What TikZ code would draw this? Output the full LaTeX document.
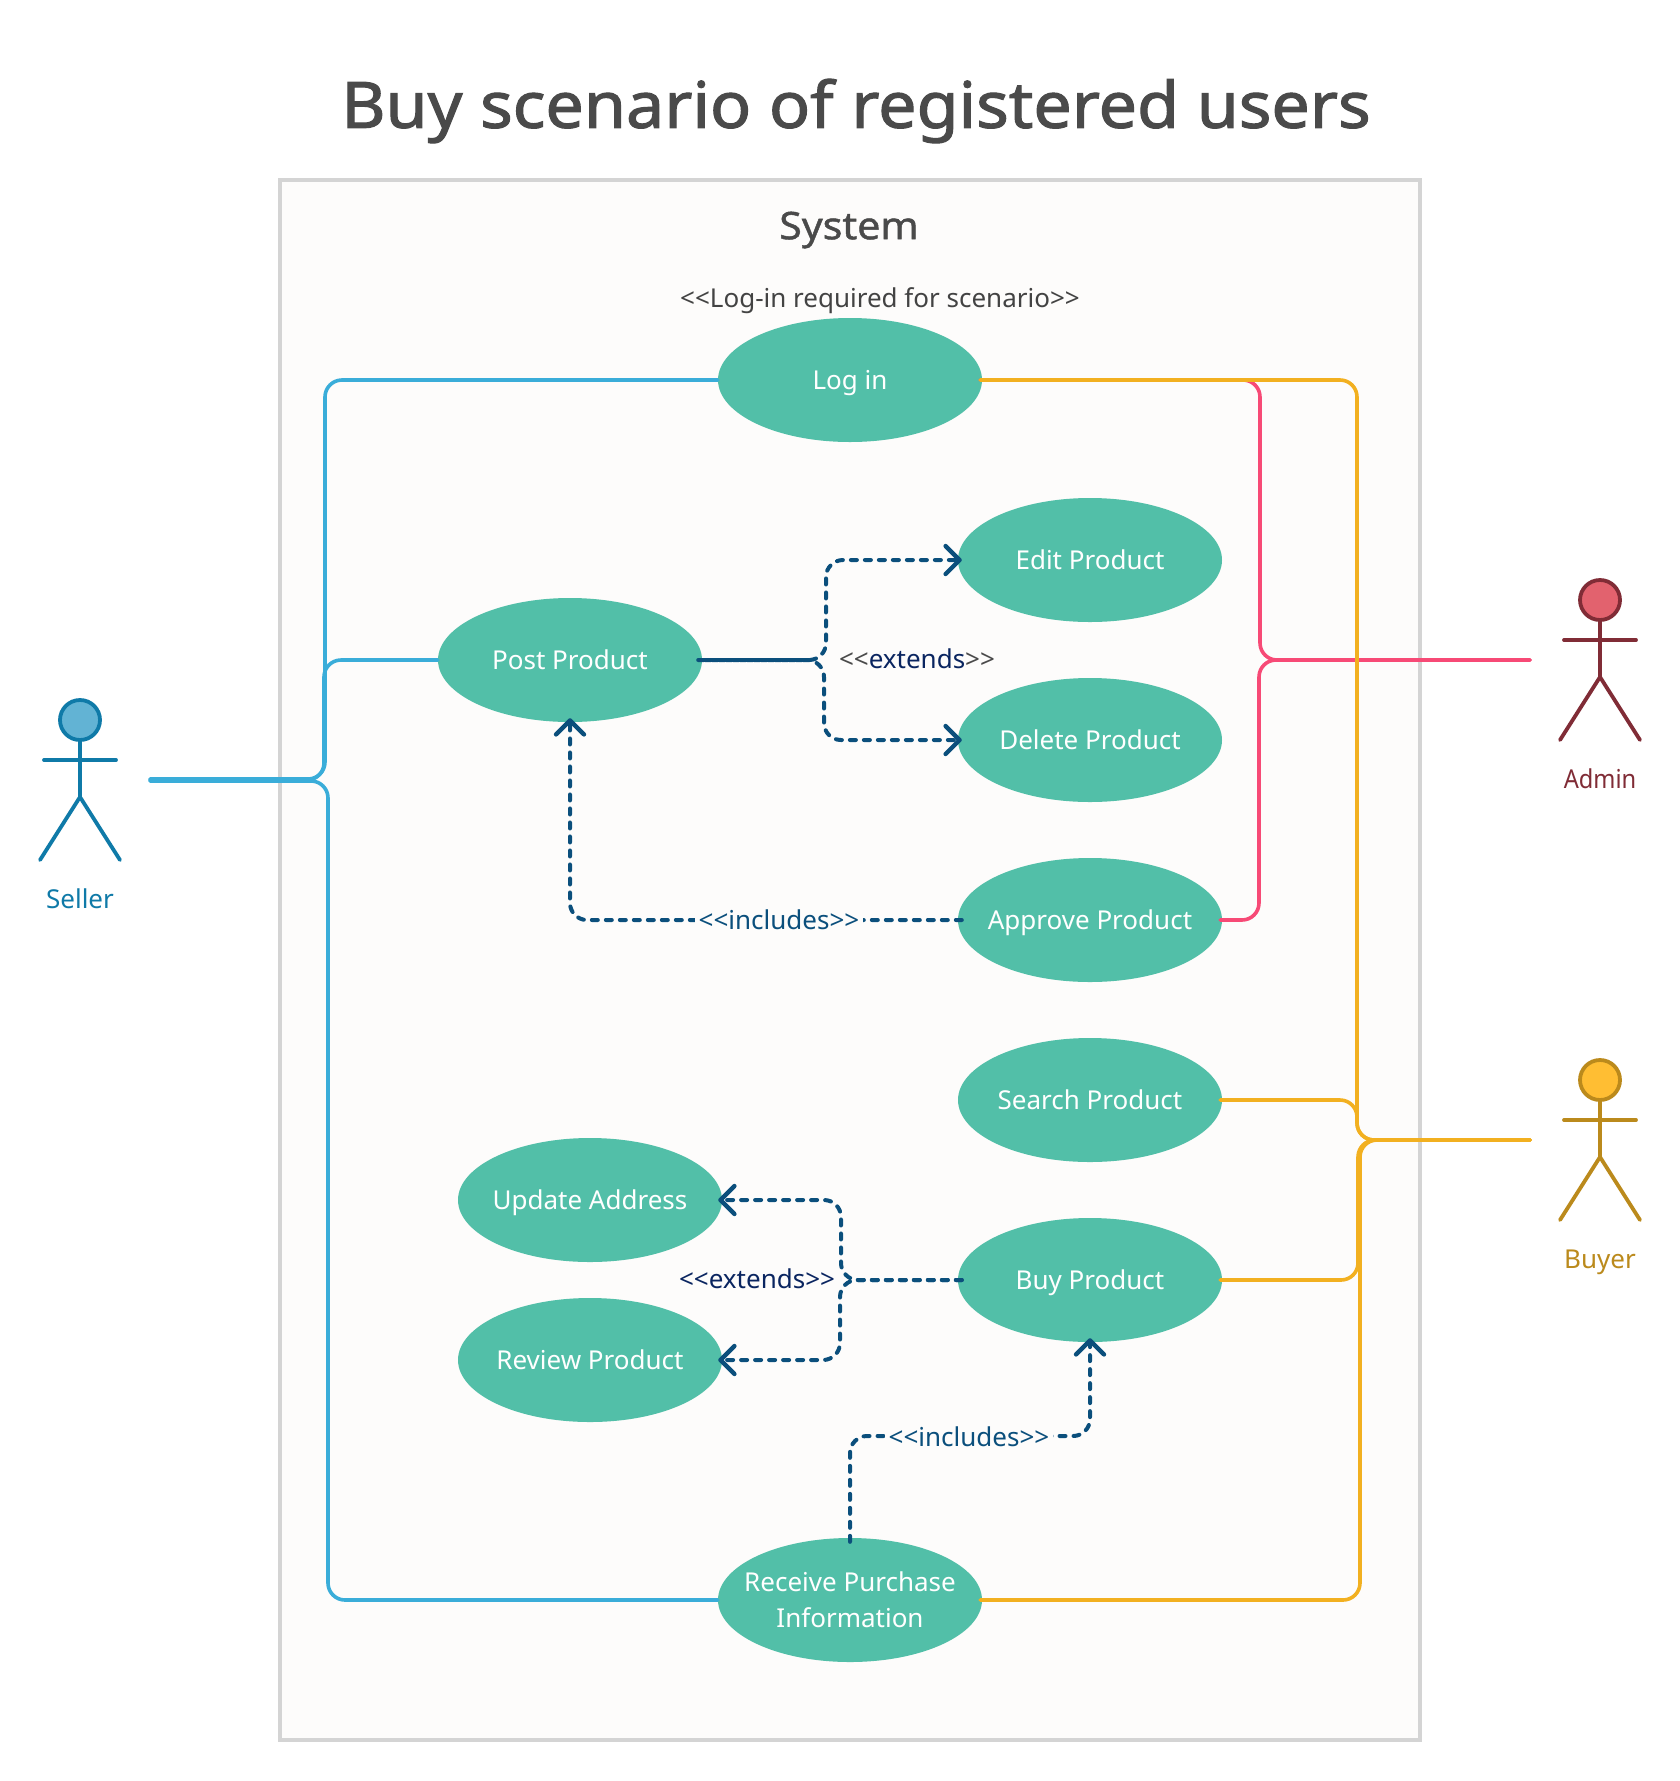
\documentclass[tikz,border=0pt]{standalone}
\usepackage{fontspec}
\setmainfont{Noto Sans}
\newfontfamily\titlefont[FakeBold=1.7,FakeStretch=1.065]{Noto Sans}
\newfontfamily\sysfont[FakeBold=1.2,FakeStretch=1.08]{Noto Sans}
\usetikzlibrary{shapes.geometric,arrows.meta}
\definecolor{teal1}{HTML}{52BFA8}
\definecolor{sysfill}{HTML}{FDFCFB}
\definecolor{sysline}{HTML}{D4D4D4}
\definecolor{bluel}{HTML}{3AADD9}
\definecolor{pinkl}{HTML}{F74A76}
\definecolor{orangel}{HTML}{F2B020}
\definecolor{dashc}{HTML}{0B4F7C}
\definecolor{navy}{HTML}{0A2560}
\definecolor{grayt}{HTML}{4A4A4A}
\definecolor{sellc}{HTML}{0F7AA8}
\definecolor{sellf}{HTML}{62B3D4}
\definecolor{admc}{HTML}{802C36}
\definecolor{admf}{HTML}{E2626E}
\definecolor{buyc}{HTML}{BB8A1C}
\definecolor{buyf}{HTML}{FFBE33}
\tikzset{
 x=1pt,y=-1pt,
 usecase/.style={ellipse,fill=teal1,minimum width=264pt,minimum height=124pt,inner sep=0pt,text=white,font=\fontsize{26}{32}\selectfont},
 assoc/.style={line width=3.6pt,rounded corners=17pt,line cap=round,shorten <=-2pt},
 dep/.style={line width=4pt,color=dashc,rounded corners=17pt,line cap=round,dash pattern=on 6pt off 8pt,shorten <=-4pt},
 openhead/.style={-{Straight Barb[length=14pt,width=28pt,line width=4.4pt,round]},shorten >=-4pt},
 deplabel/.style={fill=sysfill,inner sep=4pt,font=\fontsize{26}{30}\selectfont,text=dashc},
 actorline/.style={line width=3.8pt,line cap=round},
 actorlabel/.style={font=\fontsize{26}{30}\selectfont}
}
\newcommand{\uc}[1]{\makebox[0pt]{\smash{#1}\rule{0pt}{19.5pt}}}
\newcommand{\ucc}[2]{\makebox[0pt]{\raisebox{-2.5pt}[\height][\depth]{\begin{tabular}{@{}c@{}}#1\\#2\end{tabular}}}}
\newcommand{\actorfig}[4]{%
 \draw[actorline,#2] (#3,#4+20) -- (#3,#4+77);
 \draw[actorline,#2] (#3-36,#4+40) -- (#3+36,#4+40);
 \draw[actorline,#2] (#3-40,#4+140) -- (#3,#4+77) -- (#3+40,#4+140);
 \draw[line width=3.8pt,#2,fill=#1] (#3,#4) circle (20pt);
}
\begin{document}
\begin{tikzpicture}
\useasboundingbox (0,0) rectangle (1680,1781);
\fill[white] (0,0) rectangle (1680,1781);
\node[font=\titlefont\fontsize{64}{72}\selectfont,text=grayt] (title) at (856,111) {Buy scenario of registered users};
\draw[line width=4pt,sysline,fill=sysfill] (280,180) rectangle (1420,1740);
\node[font=\sysfont\fontsize{38}{44}\selectfont,text=grayt] (system) at (849,230) {System};
\node[font=\fontsize{26}{30}\selectfont,text=grayt!90!black] (req) at (880,301) {<{}<Log-in required for scenario>{}>};

\node[usecase] (login) at (850,380) {\uc{Log in}};
\node[usecase] (post) at (570,660) {\uc{Post Product}};
\node[usecase] (edit) at (1090,560) {\uc{Edit Product}};
\node[usecase] (delete) at (1090,740) {\uc{Delete Product}};
\node[usecase] (approve) at (1090,920) {\uc{Approve Product}};
\node[usecase] (search) at (1090,1100) {\uc{Search Product}};
\node[usecase] (update) at (590,1200) {\uc{Update Address}};
\node[usecase] (buy) at (1090,1280) {\uc{Buy Product}};
\node[usecase] (review) at (590,1360) {\uc{Review Product}};
\node[usecase,font=\fontsize{26}{36}\selectfont] (receive) at (850,1600) {\ucc{Receive Purchase}{Information}};

\actorfig{sellf}{sellc}{80}{720}
\actorfig{admf}{admc}{1600}{600}
\actorfig{buyf}{buyc}{1600}{1080}
\node[actorlabel,text=sellc] (seller) at (80,899) {Seller};
\node[actorlabel,text=admc] (admin) at (1600,779) {\scalebox{0.91}[1]{Admin}};
\node[actorlabel,text=buyc] (buyer) at (1600,1262) {Buyer};

\coordinate (sa) at (150,779);
\coordinate (sb) at (150,780);
\coordinate (sc) at (150,781);
\coordinate (aa) at (1530,660);
\coordinate (ba) at (1530,1140);

% seller
\draw[assoc,bluel,shorten <=0pt] (sa) -- (325,779) -- (325,380) -- (login.west);
\draw[assoc,bluel,shorten <=0pt] (sb) -- (324,780) -- (324,660) -- (post.west);
\draw[assoc,bluel,shorten <=0pt] (sc) -- (328,781) -- (328,1600) -- (receive.west);
% admin
\draw[assoc,pinkl] (login.east) -- (1260,380) -- (1260,660) -- (aa);
\draw[assoc,pinkl] (approve.east) -- (1259,920) -- (1259,660) -- (aa);
% buyer
\draw[assoc,orangel] (login.east) -- (1357,380) -- (1357,1140) -- (ba);
\draw[assoc,orangel] (search.east) -- (1357,1100) -- (1357,1140) -- (ba);
\draw[assoc,orangel] (buy.east) -- (1358,1280) -- (1358,1140) -- (ba);
\draw[assoc,orangel] (receive.east) -- (1360,1600) -- (1360,1140) -- (ba);

% extends / includes
\draw[dep,openhead] (post.east) -- (826,660) -- (826,560) -- (edit.west);
\draw[dep,openhead,dash phase=7pt] (post.east) -- (824,660) -- (824,740) -- (delete.west);
\draw[dep,openhead] (approve.west) -- (570,920) -- (post.south);
\draw[dep,openhead] (buy.west) -- (841,1280) -- (841,1200) -- (update.east);
\draw[dep,openhead] (buy.west) -- (840,1280) -- (840,1360) -- (review.east);
\draw[dep,openhead] (receive.north) -- (850,1436) -- (1090,1436) -- (buy.south);

\node[deplabel] (inc1) at (779,920) {<{}<includes>{}>};
\node[deplabel] (inc2) at (969,1437) {<{}<includes>{}>};
\node[font=\fontsize{26}{30}\selectfont,text=grayt] (ext1) at (917,659) {<{}<\textcolor{navy}{extends}>{}>};
\node[font=\fontsize{26}{30}\selectfont,text=navy] (ext2) at (757,1279) {<{}<extends>{}>};
\end{tikzpicture}
\end{document}
